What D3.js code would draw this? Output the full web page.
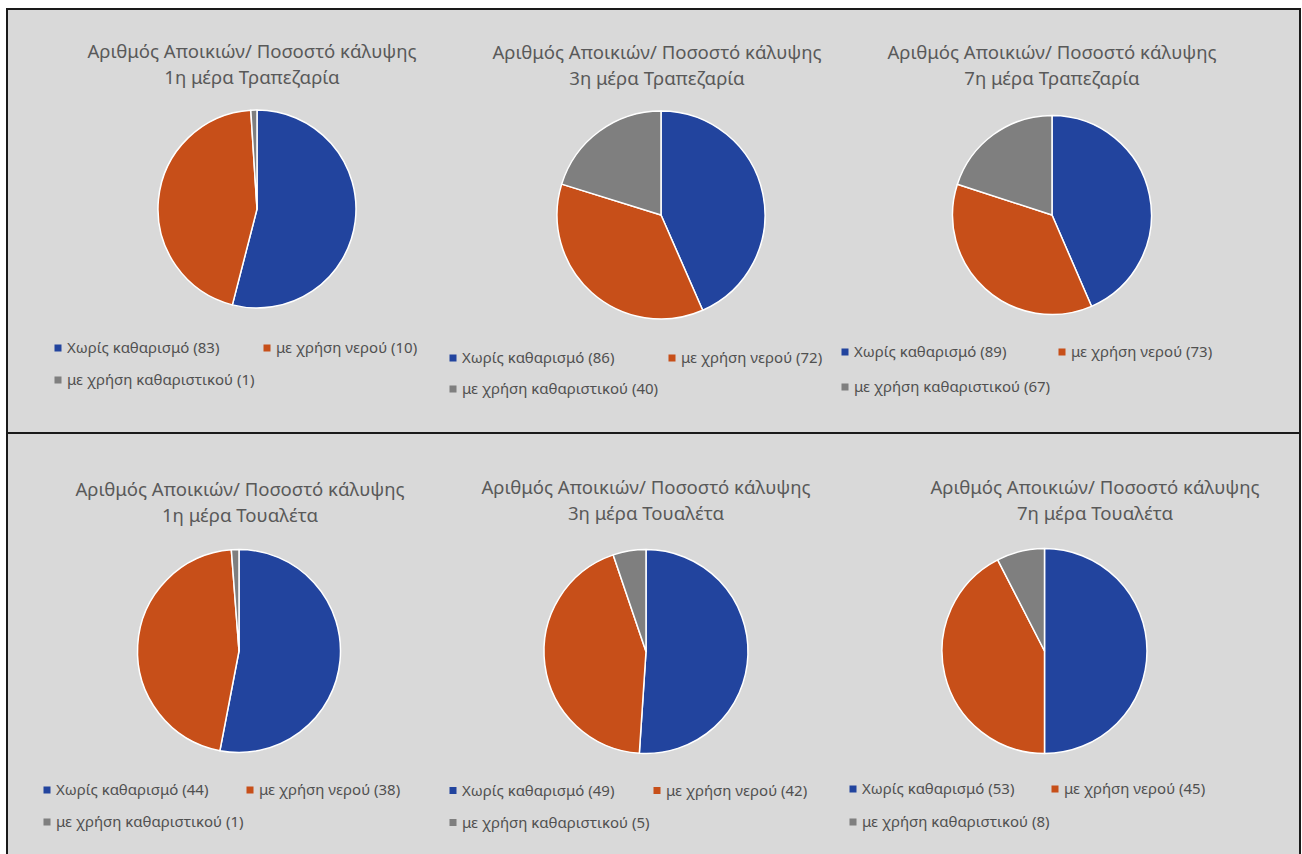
<!DOCTYPE html>
<html>
<head>
<meta charset="utf-8">
<script src="https://cdn.jsdelivr.net/npm/d3@7"></script>
<style>
  html, body { margin: 0; padding: 0; background: #ffffff; }
  svg { display: block; }
</style>
</head>
<body>
<svg id="chart" width="1302" height="854"></svg>
<script>
// ---------------- DATA ----------------
const titleLine1 = "Αριθμός Αποικιών/ Ποσοστό κάλυψης";
const chartTitles = [
  "1η μέρα Τραπεζαρία", "3η μέρα Τραπεζαρία", "7η μέρα Τραπεζαρία",
  "1η μέρα Τουαλέτα", "3η μέρα Τουαλέτα", "7η μέρα Τουαλέτα"
];
const categories = ["Χωρίς καθαρισμό", "με χρήση νερού", "με χρήση καθαριστικού"];

// numbers shown in the legends
const legendDay1Dining = [83, 10, 1];
const legendDay3Dining = [86, 72, 40];
const legendDay7Dining = [89, 73, 67];
const legendDay1Toilet = [44, 38, 1];
const legendDay3Toilet = [49, 42, 5];
const legendDay7Toilet = [53, 45, 8];

// slice sizes as drawn in the pies
const sliceDay1Dining = [54, 45, 1];
const sliceDay3Dining = [86, 72, 40];
const sliceDay7Dining = [43.5, 36.5, 20];
const sliceDay1Toilet = [44, 38, 1];
const sliceDay3Toilet = [49, 42, 5];
const sliceDay7Toilet = [53, 45, 8];

const legendValues = [legendDay1Dining, legendDay3Dining, legendDay7Dining,
                      legendDay1Toilet, legendDay3Toilet, legendDay7Toilet];
const sliceValues = [sliceDay1Dining, sliceDay3Dining, sliceDay7Dining,
                     sliceDay1Toilet, sliceDay3Toilet, sliceDay7Toilet];

// ---------------- LAYOUT / STYLE ----------------
const colors = ["#22449e", "#c74f19", "#7f7f7f"];
const layout = [
  { cx: 257,  cy: 209,   r: 99,  tx: 252,  ty: 52, lx: 58,  ly: 348, lx2: 267,  dy: 32 },
  { cx: 661,  cy: 215,   r: 104, tx: 657,  ty: 53, lx: 453, ly: 358, lx2: 672,  dy: 31 },
  { cx: 1052, cy: 215,   r: 99.5,tx: 1052, ty: 53, lx: 845, ly: 352, lx2: 1062, dy: 35 },
  { cx: 239,  cy: 651,   r: 101.5,tx: 240, ty: 490, lx: 47, ly: 790, lx2: 250,  dy: 32 },
  { cx: 646,  cy: 651.5, r: 102, tx: 646,  ty: 488, lx: 453, ly: 790.5, lx2: 657, dy: 32 },
  { cx: 1044.5,cy: 651,  r: 102.5,tx: 1095,ty: 488, lx: 853, ly: 789, lx2: 1055, dy: 33 }
];

const svg = d3.select("#chart");
const font = "'Noto Sans', 'Open Sans', sans-serif";

// panels
svg.append("rect").attr("x", 7).attr("y", 9).attr("width", 1293).attr("height", 424)
  .attr("fill", "#d9d9d9").attr("stroke", "#1a1a1a").attr("stroke-width", 2);
svg.append("rect").attr("x", 7).attr("y", 433).attr("width", 1293).attr("height", 430)
  .attr("fill", "#d9d9d9").attr("stroke", "#1a1a1a").attr("stroke-width", 2);

const pie = d3.pie().sort(null).value(d => d);

layout.forEach((L, i) => {
  const g = svg.append("g");
  // title
  const t = g.append("text").attr("text-anchor", "middle")
    .attr("font-family", font).attr("font-size", 18.6).attr("fill", "#595959");
  t.append("tspan").attr("x", L.tx).attr("y", L.ty + 6).text(titleLine1);
  t.append("tspan").attr("x", L.tx).attr("y", L.ty + 32).text(chartTitles[i]);

  // pie
  const arc = d3.arc().innerRadius(0).outerRadius(L.r);
  g.append("g").attr("transform", `translate(${L.cx},${L.cy})`)
    .selectAll("path").data(pie(sliceValues[i])).join("path")
    .attr("d", arc)
    .attr("fill", (d, j) => colors[j])
    .attr("stroke", "#ffffff").attr("stroke-width", 1.5).attr("stroke-linejoin", "round");

  // legend
  const items = categories.map((c, j) => ({
    label: `${c} (${legendValues[i][j]})`,
    color: colors[j],
    x: j === 1 ? L.lx2 : L.lx,
    y: j === 2 ? L.ly + L.dy : L.ly
  }));
  const li = g.selectAll("g.leg").data(items).join("g").attr("class", "leg")
    .attr("transform", d => `translate(${d.x},${d.y})`);
  li.append("rect").attr("x", -3.5).attr("y", -3.5).attr("width", 7).attr("height", 7)
    .attr("fill", d => d.color);
  li.append("text").attr("x", 9).attr("y", 5)
    .attr("font-family", font).attr("font-size", 15).attr("fill", "#505050")
    .text(d => d.label);
});
</script>
</body>
</html>
